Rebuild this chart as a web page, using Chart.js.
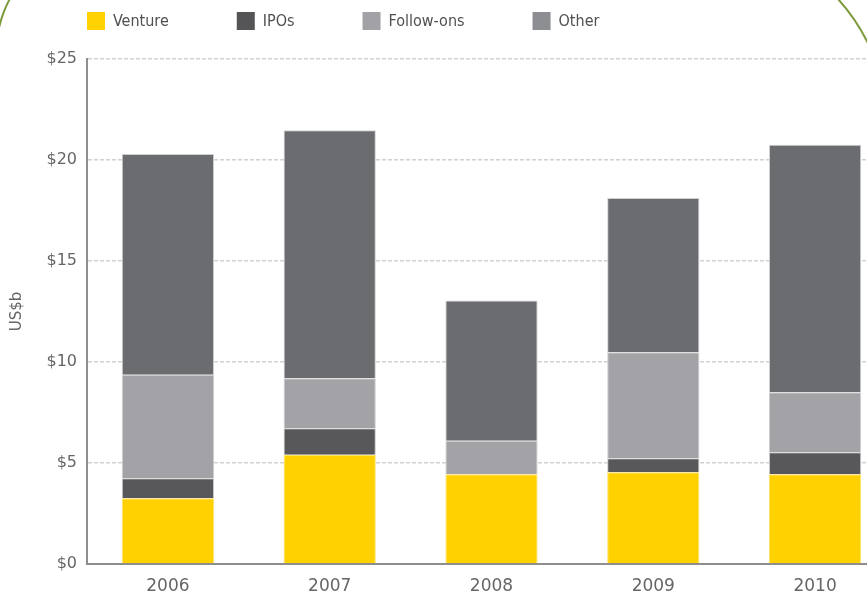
<!DOCTYPE html>
<html>
<head>
<meta charset="utf-8">
<script src="https://cdn.jsdelivr.net/npm/chart.js@4.4.1/dist/chart.umd.min.js"></script>
<style>
    html, body { margin: 0; padding: 0; background: #fff; overflow: hidden; }
    body { width: 867px; height: 596px; position: relative; }
    .frame {
        position: absolute; left: -5px; top: -64px; width: 893px; height: 900px;
        border: 2px solid #7d9b3c; box-sizing: border-box;
        border-top-left-radius: 118px; border-top-right-radius: 190px;
    }
    .wrap { position: absolute; left: 0; top: 0; width: 900px; height: 596px; }
</style>
</head>
<body>
<div class="frame"></div>
<div class="wrap"><canvas id="grafico"></canvas></div>
<script>
// Dados (US$b)
const years = ['2006', '2007', '2008', '2009', '2010'];
const seriesNames = ['Venture', 'IPOs', 'Follow-ons', 'Other'];
const venture   = [3.25, 5.41, 4.44, 4.54, 4.44];
const ipos      = [0.99, 1.31, 0, 0.69, 1.09];
const followOns = [5.13, 2.47, 1.66, 5.25, 2.97];
const other     = [10.93, 12.28, 6.95, 7.64, 12.25];
const yTickLabels = ['$0', '$5', '$10', '$15', '$20', '$25'];

const barColors = ['#ffd100', '#58585a', '#a3a2a6', '#6b6c70'];
const legendColors = ['#ffd200', '#555557', '#a2a1a5', '#8d8e91'];
const edgeColors = ['#ffe36a', '#c9c9cb', '#cfcfd1', '#cfcfd1'];

// Legenda desenhada no topo
const topLegend = {
    id: 'topLegend',
    afterDraw(chart) {
        const ctx = chart.ctx;
        ctx.save();
        ctx.font = '16px "Liberation Sans Narrow", "DejaVu Sans Condensed", sans-serif';
        ctx.textBaseline = 'middle';
        let x = 87;
        seriesNames.forEach((name, i) => {
            ctx.fillStyle = legendColors[i];
            ctx.fillRect(x, 12, 18, 18);
            ctx.fillStyle = '#505050';
            ctx.fillText(name, x + 26, 22);
            x += 26 + ctx.measureText(name).width + 68;
        });
        ctx.restore();
    }
};

const values = [venture, ipos, followOns, other];

new Chart(document.getElementById('grafico'), {
    type: 'bar',
    data: {
        labels: years,
        datasets: seriesNames.map((name, i) => ({
            label: name,
            data: values[i],
            backgroundColor: barColors[i],
            borderColor: edgeColors[i],
            borderWidth: 1,
            barPercentage: 0.57,
            categoryPercentage: 1
        }))
    },
    options: {
        responsive: true,
        maintainAspectRatio: false,
        animation: false,
        layout: { padding: { top: 59, right: 4, bottom: 0, left: 0 } },
        plugins: {
            legend: { display: false },
            tooltip: { enabled: false }
        },
        scales: {
            x: {
                stacked: true,
                afterFit: scale => { scale.height = 32; },
                grid: { display: false, drawTicks: false },
                border: { color: '#8e8e8e', width: 2, z: 1 },
                ticks: {
                    color: '#666',
                    padding: 12,
                    font: { family: 'DejaVu Sans', size: 17 }
                }
            },
            y: {
                stacked: true,
                min: 0,
                max: 25,
                afterFit: scale => { scale.width = 87; },
                grid: {
                    drawTicks: false,
                    lineWidth: 1.5,
                    color: c => c.tick && c.tick.value === 0 ? 'rgba(0,0,0,0)' : '#d2d2d2'
                },
                border: { color: '#8e8e8e', width: 2, dash: [4, 2] },
                ticks: {
                    stepSize: 5,
                    padding: 10,
                    color: '#666',
                    font: { family: 'DejaVu Sans', size: 16 },
                    callback: (v, i) => yTickLabels[i]
                },
                title: {
                    display: true,
                    text: 'US$b',
                    color: '#666',
                    padding: { top: 8, bottom: 0 },
                    font: { family: 'DejaVu Sans', size: 15 }
                }
            }
        }
    },
    plugins: [topLegend]
});
</script>
</body>
</html>
